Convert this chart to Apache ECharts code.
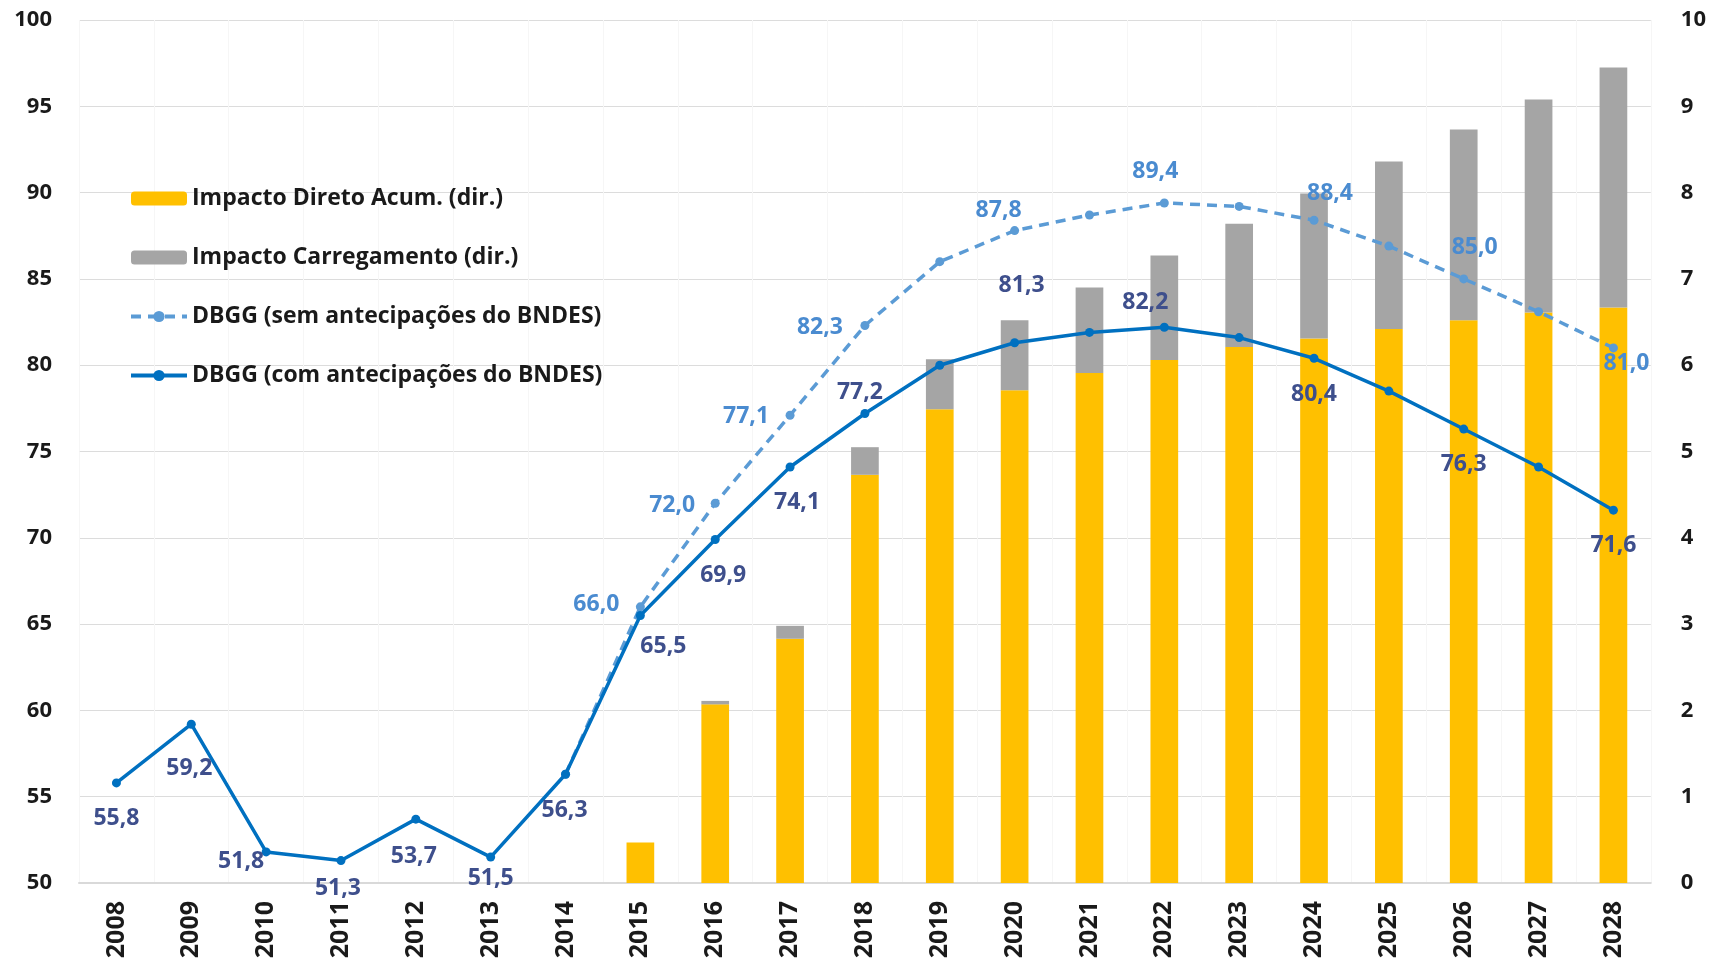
<!DOCTYPE html>
<html>
<head>
<meta charset="utf-8">
<script src="https://cdn.jsdelivr.net/npm/echarts@6/dist/echarts.min.js"></script>
<style>
  html, body { margin: 0; padding: 0; background: #fff; }
  #main { width: 1709px; height: 963px; }
</style>
</head>
<body>
<div id="main"></div>
<script>
  // 数据 - anos / valores
  const anos = ['2008','2009','2010','2011','2012','2013','2014','2015','2016','2017','2018',
                '2019','2020','2021','2022','2023','2024','2025','2026','2027','2028'];
  // barras (eixo dir.)
  const impactoDireto = [null,null,null,null,null,null,null,0.47,2.07,2.83,4.73,
                         5.49,5.71,5.91,6.06,6.21,6.31,6.42,6.52,6.61,6.67];
  const impactoCarregamento = [null,null,null,null,null,null,null,0,0.04,0.15,0.32,
                               0.58,0.81,0.99,1.21,1.43,1.68,1.94,2.21,2.47,2.78];
  // linhas (eixo esq.)
  const dbggCom = [55.8,59.2,51.8,51.3,53.7,51.5,56.3,65.5,69.9,74.1,77.2,
                   80.0,81.3,81.9,82.2,81.6,80.4,78.5,76.3,74.1,71.6];
  const dbggSem = [null,null,null,null,null,null,56.3,66.0,72.0,77.1,82.3,
                   86.0,87.8,88.7,89.4,89.2,88.4,86.9,85.0,83.1,81.0];
  const ticksEsq = [50, 100, 5];
  const ticksDir = [0, 10, 1];

  // onde vai cada rótulo (deslocamento a partir do ponto)
  const rotuloCom = {
    '2008':[0,36], '2009':[-2,44], '2010':[-25,10], '2011':[-3,28], '2012':[-2,37],
    '2013':[0,21], '2014':[-1,36], '2015':[23,31], '2016':[8,36], '2017':[7,35],
    '2018':[-5,-21], '2020':[7,-57], '2022':[-19,-25], '2024':[0,36], '2026':[0,35], '2028':[0,35]
  };
  const rotuloSem = {
    '2015':[-44,-2], '2016':[-43,2], '2017':[-44,1], '2018':[-45,2], '2020':[-16,-20],
    '2022':[-9,-32], '2024':[16,-27], '2026':[11,-31], '2028':[13,16]
  };

  const fonte = '"Open Sans", Lato, sans-serif';
  const virgula = (v) => v.toFixed(1).replace('.', ',');

  const pontos = (vals, rotulos, cor) => vals.map((v, i) => {
    let off = rotulos[anos[i]];
    if (!off || v == null) return v;
    return {
      value: v,
      label: {
        show: true, position: 'inside', offset: off,
        color: cor, fontSize: 23, fontWeight: 'bold', fontFamily: fonte,
        formatter: (p) => virgula(p.value)
      }
    };
  });

  let myChart = echarts.init(document.getElementById('main'), null, {renderer: 'canvas'});

  let option = {
    animation: false,
    backgroundColor: '#fff',
    grid: { left: 79, right: 55, top: 20, bottom: 80, containLabel: false },
    legend: {
      orient: 'vertical',
      left: 124,
      top: 182,
      itemWidth: 56,
      itemHeight: 14,
      itemGap: 36,
      lineStyle: { width: 4 },
      textStyle: { fontSize: 23, fontWeight: 'bold', color: '#1a1a1a', fontFamily: fonte },
      data: ['Impacto Direto Acum. (dir.)', 'Impacto Carregamento (dir.)',
             'DBGG (sem antecipações do BNDES)', 'DBGG (com antecipações do BNDES)']
    },
    xAxis: {
      type: 'category',
      data: anos,
      boundaryGap: true,
      axisLine: { lineStyle: { color: '#d9d9d9', width: 2 } },
      axisTick: { show: false },
      splitLine: { show: true, lineStyle: { color: '#f6f6f6' } },
      axisLabel: { rotate: 90, fontSize: 25, fontWeight: 'bold', color: '#1a1a1a',
                   fontFamily: fonte, margin: 18 }
    },
    yAxis: [
      {
        type: 'value', min: ticksEsq[0], max: ticksEsq[1], interval: ticksEsq[2],
        axisLine: { show: false }, axisTick: { show: false },
        splitLine: { lineStyle: { color: '#dcdcdc', width: 1 } },
        axisLabel: { fontSize: 22, fontWeight: 'bold', color: '#1a1a1a', fontFamily: fonte, margin: 27 }
      },
      {
        type: 'value', min: ticksDir[0], max: ticksDir[1], interval: ticksDir[2],
        axisLine: { show: false }, axisTick: { show: false },
        splitLine: { show: false },
        axisLabel: { fontSize: 22, fontWeight: 'bold', color: '#1a1a1a', fontFamily: fonte, margin: 30 }
      }
    ],
    series: [
      {
        name: 'Impacto Direto Acum. (dir.)',
        type: 'bar', yAxisIndex: 1, stack: 'imp',
        barWidth: '37%',
        itemStyle: { color: '#FFC000' },
        data: impactoDireto, z: 2
      },
      {
        name: 'Impacto Carregamento (dir.)',
        type: 'bar', yAxisIndex: 1, stack: 'imp',
        barWidth: '37%',
        itemStyle: { color: '#A5A5A5' },
        data: impactoCarregamento, z: 2
      },
      {
        name: 'DBGG (sem antecipações do BNDES)',
        type: 'line', yAxisIndex: 0,
        symbol: 'circle', symbolSize: 9,
        lineStyle: { color: '#5B9BD5', width: 3.5, type: [10, 7] },
        itemStyle: { color: '#5B9BD5' },
        data: pontos(dbggSem, rotuloSem, '#4a8bd0'),
        z: 3
      },
      {
        name: 'DBGG (com antecipações do BNDES)',
        type: 'line', yAxisIndex: 0,
        symbol: 'circle', symbolSize: 9,
        lineStyle: { color: '#0070C0', width: 3.5 },
        itemStyle: { color: '#0070C0' },
        data: pontos(dbggCom, rotuloCom, '#3e4f8c'),
        z: 4
      }
    ]
  };
  myChart.setOption(option);
  window.addEventListener('resize', myChart.resize);
</script>
</body>
</html>
